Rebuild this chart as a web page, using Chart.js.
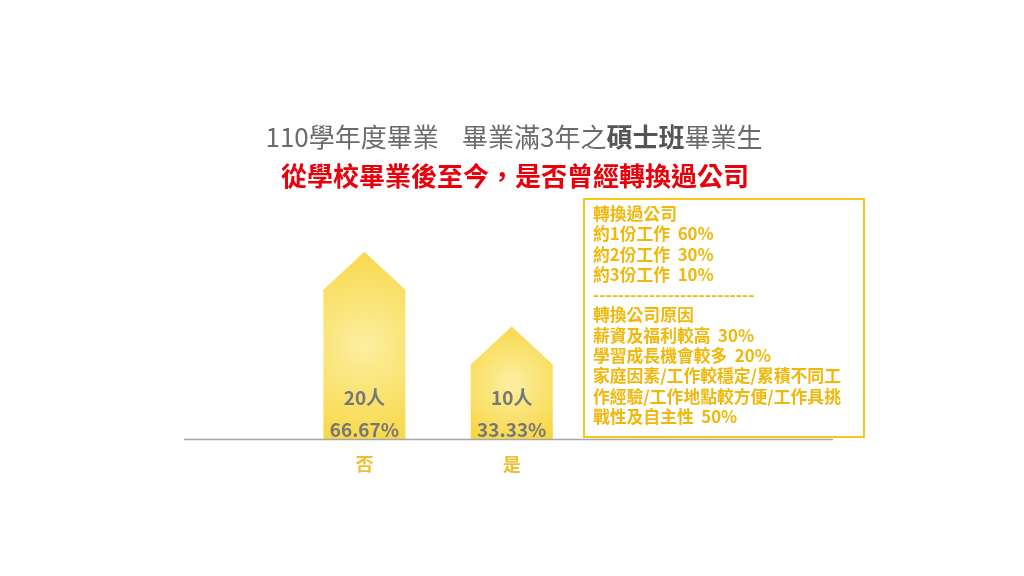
<!DOCTYPE html>
<html>
<head>
<meta charset="utf-8">
<script src="https://cdn.jsdelivr.net/npm/chart.js@4"></script>
<style>
  body { margin: 0; background: #fff; font-family: "Noto Sans CJK TC", "Noto Sans", sans-serif; }
  #wrap { position: relative; width: 1024px; height: 576px; overflow: hidden; }
  #chart { position: absolute; left: 0; top: 0; }
  .t1 { position: absolute; left: 0; width: 1028px; top: 117px; text-align: center; font-size: 26px; color: #6b6b6b; white-space: pre; }
  .t1 b { color: #555; }
  .t2 { position: absolute; left: 0; width: 1030px; top: 156px; text-align: center; font-size: 26px; font-weight: bold; color: #e8000b; }
  .box { position: absolute; left: 583px; top: 198px; width: 278px; height: 233px; border: 2px solid #f5c71a;
         color: #f0b80a; font-weight: bold; font-size: 16.8px; line-height: 20.3px; }
  .box div { padding-left: 8px; white-space: pre; }
</style>
</head>
<body>
<div id="wrap">
  <canvas id="chart" width="1024" height="576"></canvas>
  <div class="t1">110學年度畢業    畢業滿3年之<b>碩士班</b>畢業生</div>
  <div class="t2">從學校畢業後至今，是否曾經轉換過公司</div>
  <div class="box" id="box"></div>
</div>
<script>
const categories = ["否", "是"];
const counts = [20, 10];
const percents = ["66.67%", "33.33%"];
const noteLines = [
  "轉換過公司",
  "約1份工作  60%",
  "約2份工作  30%",
  "約3份工作  10%",
  "--------------------------",
  "轉換公司原因",
  "薪資及福利較高  30%",
  "學習成長機會較多  20%",
  "家庭因素/工作較穩定/累積不同工",
  "作經驗/工作地點較方便/工作具挑",
  "戰性及自主性  50%"
];

const box = document.getElementById("box");
box.style.paddingTop = "3px";
noteLines.forEach(l => {
  const d = document.createElement("div");
  d.textContent = l;
  box.appendChild(d);
});

const FONT = '"Noto Sans CJK TC", "Noto Sans", sans-serif';

// yellow gradient with a pale centre, like the painted bars
function barFill(ctx, left, right, top, bottom) {
  const g = ctx.createRadialGradient((left + right) / 2, (top + bottom) / 2, 5, (left + right) / 2, (top + bottom) / 2, (bottom - top) * 0.7);
  g.addColorStop(0, "#fcee9c");
  g.addColorStop(1, "#f6d02c");
  return g;
}

// draw each bar as a "house": the bar body plus a roof on top
const housePlugin = {
  id: "house",
  afterDatasetsDraw(chart) {
    const ctx = chart.ctx;
    const meta = chart.getDatasetMeta(0);
    const roof = 38;
    meta.data.forEach((bar, i) => {
      const half = bar.width / 2;
      const left = bar.x - half, right = bar.x + half;
      const top = bar.y, bottom = bar.base;
      ctx.save();
      ctx.beginPath();
      ctx.moveTo(left, bottom);
      ctx.lineTo(left, top);
      ctx.lineTo(bar.x, top - roof);
      ctx.lineTo(right, top);
      ctx.lineTo(right, bottom);
      ctx.closePath();
      ctx.fillStyle = barFill(ctx, left, right, top - roof, bottom);
      ctx.fill();
      ctx.fillStyle = "#777";
      ctx.textAlign = "center";
      ctx.textBaseline = "middle";
      ctx.font = "bold 19px " + FONT;
      ctx.fillText(counts[i] + "人", bar.x, bottom - 42);
      ctx.fillText(percents[i], bar.x, bottom - 10);
      ctx.restore();
    });
  }
};

// baseline across the whole plot width
const baselinePlugin = {
  id: "baseline",
  afterDatasetsDraw(chart) {
    const { ctx, chartArea, scales } = chart;
    const y = scales.y.getPixelForValue(0);
    ctx.save();
    ctx.strokeStyle = "#a6a6a6";
    ctx.lineWidth = 1.5;
    ctx.beginPath();
    ctx.moveTo(chartArea.left, y);
    ctx.lineTo(chartArea.right, y);
    ctx.stroke();
    ctx.restore();
  }
};

new Chart(document.getElementById("chart"), {
  type: "bar",
  data: {
    datasets: [{
      data: counts.map((v, i) => ({ x: i + 1, y: v })),
      backgroundColor: "rgba(0,0,0,0)",
      barThickness: 82
    }]
  },
  options: {
    responsive: false,
    animation: false,
    layout: { padding: { left: 184, right: 191, top: 230, bottom: 95 } },
    plugins: { legend: { display: false }, tooltip: { enabled: false } },
    scales: {
      x: {
        type: "linear",
        offset: false,
        min: -0.224,
        max: 4.18,
        grid: { display: false },
        border: { display: false },
        afterBuildTicks: s => { s.ticks = categories.map((c, i) => ({ value: i + 1 })); },
        ticks: {
          callback: v => categories[v - 1] || "",
          color: "#f2bd2c",
          font: { family: FONT, size: 18, weight: "bold" },
          padding: 6
        }
      },
      y: {
        display: false,
        min: 0,
        max: 28
      }
    }
  },
  plugins: [housePlugin, baselinePlugin]
});
</script>
</body>
</html>
